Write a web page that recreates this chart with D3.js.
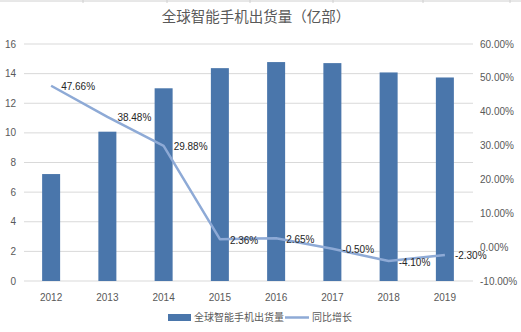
<!DOCTYPE html>
<html><head><meta charset="utf-8">
<script src="https://cdn.jsdelivr.net/npm/d3@7"></script>
<style>body{margin:0;background:#fff}svg{display:block}</style>
</head><body>
<script>
const years = ["2012","2013","2014","2015","2016","2017","2018","2019"];
const shipments = [7.22, 10.08, 13.01, 14.37, 14.78, 14.71, 14.08, 13.74];
const growth = [47.66, 38.48, 29.88, 2.36, 2.65, -0.50, -4.10, -2.30];
const growthLabels = ["47.66%","38.48%","29.88%","2.36%","2.65%","-0.50%","-4.10%","-2.30%"];
const leftTicks = [0,2,4,6,8,10,12,14,16];
const rightTicks = [-10,0,10,20,30,40,50,60];
const title = "全球智能手机出货量（亿部）";
const seriesNames = ["全球智能手机出货量","同比增长"];

const W = 521, H = 332;
const svg = d3.select("body").append("svg").attr("width", W).attr("height", H);
const font = "'Liberation Sans', Arial, 'Noto Sans CJK SC', sans-serif";
const cjk = "'Noto Sans CJK SC', sans-serif";

// top frame line
svg.append("line").attr("x1",0).attr("x2",W).attr("y1",1).attr("y2",1).attr("stroke","#d0d0d0");
[83,167,250,333,423,510].forEach(x=>svg.append("line").attr("x1",x).attr("x2",x).attr("y1",0).attr("y2",3).attr("stroke","#d0d0d0"));

const x = d3.scaleBand().domain(years).range([23, 473]).paddingInner(0.68).paddingOuter(0.34);
const xc = d => x(d) + x.bandwidth()/2;
const yL = d3.scaleLinear().domain([0,16]).range([281, 44]);
const yR = d3.scaleLinear().domain([-10,60]).range([281, 44]);

// gridlines
svg.append("g").selectAll("line").data(leftTicks).join("line")
  .attr("x1",24).attr("x2",473).attr("y1",d=>yL(d)).attr("y2",d=>yL(d))
  .attr("stroke","#d9d9d9").attr("stroke-width",1);

// left axis labels
svg.append("g").selectAll("text").data(leftTicks).join("text")
  .attr("x",16).attr("y",d=>yL(d)).attr("dy","0.35em").attr("text-anchor","end")
  .attr("font-family",font).attr("font-size",10).attr("fill","#595959").text(d=>d);

// right axis labels
svg.append("g").selectAll("text").data(rightTicks).join("text")
  .attr("x",480).attr("y",d=>yR(d)).attr("dy","0.35em").attr("text-anchor","start")
  .attr("font-family",font).attr("font-size",10).attr("fill","#595959").text(d=>d.toFixed(2)+"%");

// x labels
svg.append("g").selectAll("text").data(years).join("text")
  .attr("x",d=>xc(d)).attr("y",297).attr("dy","0.35em").attr("text-anchor","middle")
  .attr("font-family",font).attr("font-size",10).attr("fill","#595959").text(d=>d);

// bars
svg.append("g").selectAll("rect").data(shipments).join("rect")
  .attr("x",(d,i)=>x(years[i])).attr("width",x.bandwidth())
  .attr("y",d=>yL(d)).attr("height",d=>yL(0)-yL(d)).attr("fill","#4a76ab");

// line
const line = d3.line().x((d,i)=>xc(years[i])).y(d=>yR(d));
svg.append("path").datum(growth).attr("d",line).attr("fill","none")
  .attr("stroke","#8eaad6").attr("stroke-width",2.5).attr("stroke-linejoin","round");

// data labels
svg.append("g").selectAll("text").data(growth).join("text")
  .attr("x",(d,i)=>xc(years[i])+10).attr("y",d=>yR(d)+1).attr("dy","0.35em")
  .attr("font-family",font).attr("font-size",10).attr("fill","#262626").text((d,i)=>growthLabels[i]);

// title
svg.append("text").attr("x",256).attr("y",17).attr("dy","0.35em").attr("text-anchor","middle")
  .attr("font-family",cjk).attr("font-size",14.5).attr("fill","#595959").text(title);

// legend
const lg = svg.append("g");
lg.append("rect").attr("x",168).attr("y",314).attr("width",23).attr("height",7).attr("fill","#4a76ab");
lg.append("text").attr("x",194).attr("y",317.5).attr("dy","0.35em").attr("font-family",cjk)
  .attr("font-size",10).attr("fill","#595959").text(seriesNames[0]);
lg.append("line").attr("x1",285).attr("x2",309).attr("y1",317.5).attr("y2",317.5)
  .attr("stroke","#8eaad6").attr("stroke-width",2.5);
lg.append("text").attr("x",312).attr("y",317.5).attr("dy","0.35em").attr("font-family",cjk)
  .attr("font-size",10).attr("fill","#595959").text(seriesNames[1]);
</script>
</body></html>
